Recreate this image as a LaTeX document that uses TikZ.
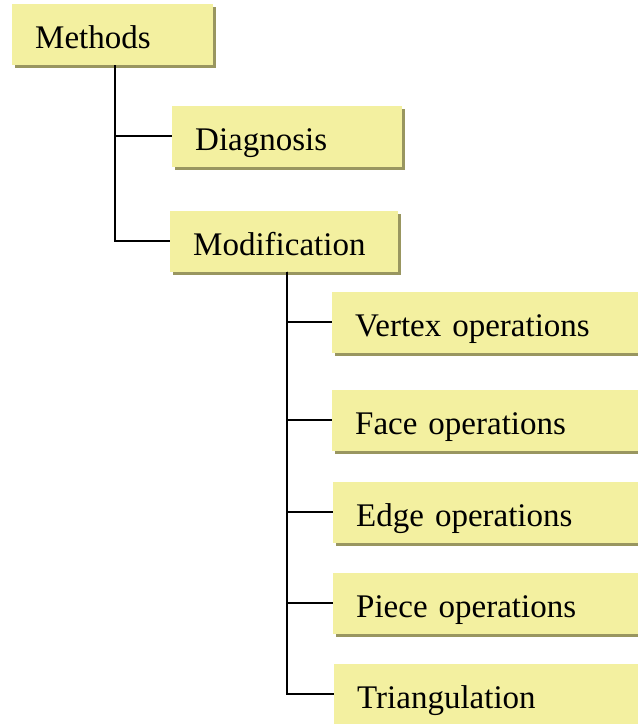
\documentclass[tikz,border=0pt]{standalone}
\usepackage{fontspec}
\setmainfont{Liberation Serif}
\usepackage{xcolor}
\usepackage{tikz}
\usetikzlibrary{positioning, calc, shadows}

\definecolor{boxyellow}{RGB}{243,240,160}
\definecolor{boxshade}{RGB}{153,150,96}

\tikzset{
    treebox/.style={rectangle, fill=boxyellow, anchor=west,
        minimum height=61pt, inner xsep=23pt, inner ysep=0pt, align=left,
        text height=30pt, text depth=2pt,
        font=\fontsize{33}{38}\selectfont,
        drop shadow={shadow xshift=3pt, shadow yshift=-3pt, fill=boxshade, opacity=1}},
    branch/.style={line width=1.8pt, black}
}

\begin{document}
\begin{tikzpicture}[x=1pt, y=-1pt]

    % Page frame
    \useasboundingbox (0,0) rectangle (638,724);

    % Root and first level
    \node[treebox, text width=155pt] (methods) at (12,34.5) {Methods};
    \node[treebox, text width=184pt] (diagnosis) at (172,136) {Diagnosis};
    \node[treebox, text width=182pt] (modification) at (170,241) {Modification};

    % Second level under the modification box
    \node[treebox, text width=280pt] (vertex) at (332,322) {Vertex operations};
    \node[treebox, text width=280pt] (face) at (332,420) {Face operations};
    \node[treebox, text width=280pt] (edge) at (333,512) {Edge operations};
    \node[treebox, text width=280pt] (piece) at (333,603) {Piece operations};
    \node[treebox, text width=280pt] (triangulation) at (334,694) {Triangulation};

    % Trunk points below the parent boxes
    \coordinate (mtrunk) at ([xshift=2.5pt]methods.south);
    \coordinate (ctrunk) at ([xshift=3pt]modification.south);

    % Connectors of the root
    \draw[branch] (mtrunk) |- (diagnosis.west);
    \draw[branch] (mtrunk) |- (modification.west);

    % Connectors of the modification box
    \foreach \child in {vertex, face, edge, piece, triangulation}
        \draw[branch] (ctrunk) |- (\child.west);

\end{tikzpicture}
\end{document}
